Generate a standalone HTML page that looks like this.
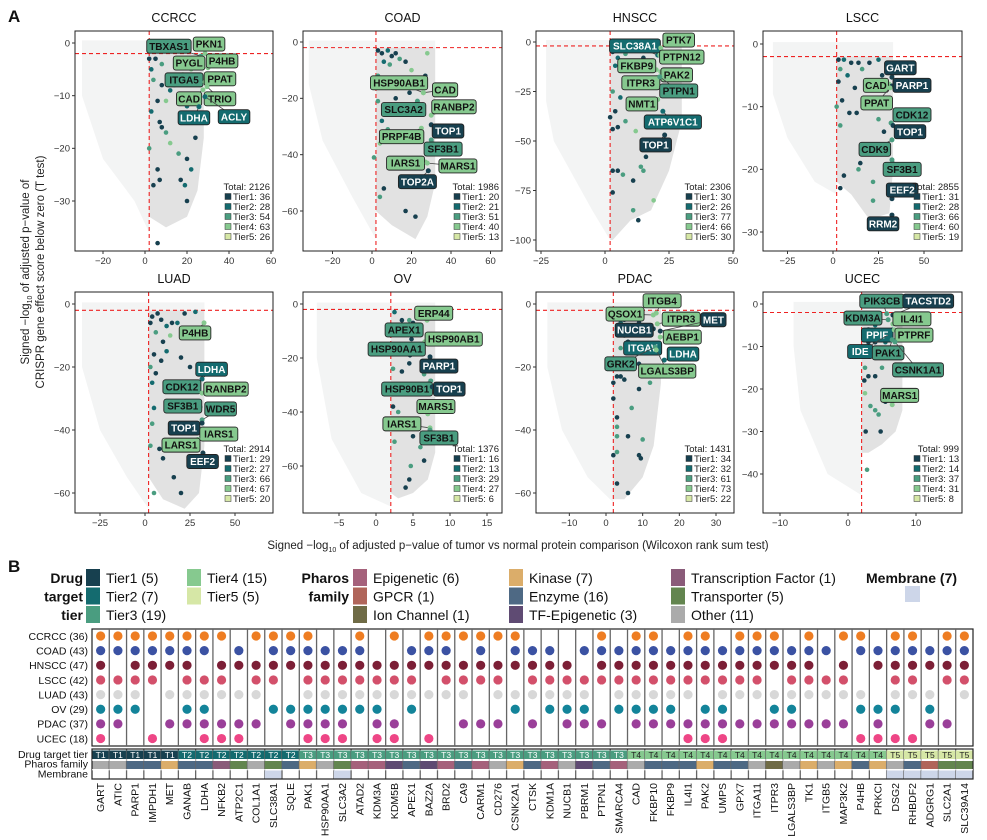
<!DOCTYPE html>
<html><head><meta charset="utf-8">
<style>
html,body{margin:0;padding:0;background:#fff;}
svg{display:block;font-family:"Liberation Sans",Arial,sans-serif;}
</style></head>
<body>
<svg id="fig" width="987" height="840" viewBox="0 0 987 840" xmlns="http://www.w3.org/2000/svg"></svg>
<script>
// ===== Panel A data =====
const panelNames = ["CCRCC","COAD","HNSCC","LSCC","LUAD","OV","PDAC","UCEC"];
const panelTotals = [2126,1986,2306,2855,2914,1376,1431,999];
const panelTierCounts = [[36,28,54,63,26],[20,21,51,40,13],[30,26,77,66,30],[31,28,66,60,19],[29,27,66,67,20],[16,13,29,27,6],[34,32,61,73,22],[13,14,37,31,8]];
const panelXTicks = [[-20,0,20,40,60],[-20,0,20,40,60],[-25,0,25,50],[-25,0,25,50],[-25,0,25,50],[-5,0,5,10,15],[-10,0,10,20,30],[-10,0,10]];
const panelYTicks = [[0,-10,-20,-30],[0,-20,-40,-60],[0,-25,-50,-75,-100],[0,-10,-20,-30],[0,-20,-40,-60],[0,-20,-40,-60],[0,-20,-40,-60],[0,-10,-20,-30,-40]];
// labelled genes: [gene, labelX, labelY, pointX, pointY, tier]
const panelLabels = [
 [["TBXAS1",11.4,-0.6,26.7,-2.5,3],["PKN1",30.5,-0.2,28.6,-2,4],["PYGL",21,-3.8,26,-3.8,4],["P4HB",36.7,-3.4,30,-4.7,4],["ITGA5",18.6,-7,26,-7,3],["PPAT",35.7,-6.8,28.6,-7.4,4],["CAD",21,-10.6,27.6,-8.9,4],["TRIO",35.7,-10.6,29.5,-8.3,4],["LDHA",23.3,-14.2,25.7,-12.1,2],["ACLY",42.4,-14,28.6,-10.2,2]],
 [["HSP90AB1",13.7,-14.5,26,-18,4],["CAD",37,-17,26,-18,4],["SLC3A2",16,-24,23,-21,3],["RANBP2",41.5,-23,30,-26,4],["TOP1",38.5,-31.6,30,-29.4,1],["PRPF4B",15,-33.6,25,-30.6,4],["SF3B1",36,-38,30,-34.8,3],["IARS1",17,-43,27,-42.6,4],["MARS1",43.5,-44,28,-43,4],["TOP2A",23,-49.6,28.5,-45.7,1]],
 [["SLC38A1",11.7,-2,20.6,-6.6,2],["PTK7",28.8,1,21.8,-3,4],["PTPN12",30,-7.6,21.4,-6.6,4],["FKBP9",12.4,-12,20,-14,4],["PAK2",28,-16.6,21.8,-15,4],["ITPR3",14,-20.6,20.6,-18,4],["PTPN1",28.8,-24.7,21.4,-17.6,3],["NMT1",14.4,-31.3,20.6,-29,4],["ATP6V1C1",26.5,-40.4,22.6,-35,2],["TOP1",19.8,-52,23.3,-47,1]],
 [["GART",37,-3.8,32.4,-5.3,1],["CAD",23.6,-6.6,30.8,-6.4,4],["PARP1",43.4,-6.6,32.4,-6.7,1],["PPAT",24,-9.4,31.3,-7,4],["CDK12",43.4,-11.3,31.9,-12.6,3],["TOP1",42.3,-14,33,-13,1],["CDK9",23,-16.8,32.4,-15.3,3],["SF3B1",38,-20,32.4,-18.5,3],["EEF2",38,-23.3,32.4,-24.7,1],["RRM2",27.5,-28.7,32.4,-27.3,1]],
 [["P4HB",27.8,-9.2,32.8,-6,4],["LDHA",37,-20.7,31.7,-23.8,2],["CDK12",20.5,-26.3,28.9,-25.4,3],["RANBP2",45,-27,31.7,-28.3,4],["SF3B1",21,-32.4,30.6,-32.7,3],["WDR5",42,-33.3,31.7,-36.8,3],["TOP1",21.7,-39.4,31.7,-37.8,1],["IARS1",41,-41.3,32.2,-42,4],["LARS1",20,-44.8,29.4,-43,4],["EEF2",32,-50,32.2,-47.3,1]],
 [["ERP44",7.8,-3.4,6.9,-6,4],["APEX1",3.8,-9.6,6,-10.6,3],["HSP90AB1",10.5,-13,6.6,-14,4],["HSP90AA1",2.8,-16.7,6.2,-16.4,3],["PARP1",8.5,-23,7.3,-19.6,1],["HSP90B1",4.2,-31.5,7.4,-28.5,3],["TOP1",9.9,-31.5,7.6,-30.7,1],["MARS1",8.1,-38,7,-40.7,4],["IARS1",3.5,-44.4,7.3,-45.9,4],["SF3B1",8.5,-49.6,7.3,-46.7,3]],
 [["ITGB4",15.3,1,13.7,-2.9,4],["QSOX1",5.2,-3.2,12.9,-3.5,4],["ITPR3",20.5,-4.8,14,-6.3,4],["MET",29.3,-5,14.8,-8.6,1],["NUCB1",7.7,-8.3,12.9,-7.9,1],["AEBP1",20.8,-10.5,14.8,-10.5,4],["ITGAV",10,-14,12.9,-12.7,2],["LDHA",21,-15.9,15.9,-17.8,2],["GRK2",4,-19,13.4,-13.7,3],["LGALS3BP",16.7,-21.3,13.7,-14.6,4]],
 [["PIK3CB",5,0.7,5.7,-2.3,3],["TACSTD2",11.8,0.7,6.6,-2.6,1],["KDM3A",2.2,-3.3,5.9,-3.7,3],["IL4I1",9.4,-3.5,6.6,-4.7,4],["PPIF",4.3,-7.3,6.5,-6.1,2],["PTPRF",9.7,-7.3,6.8,-6.1,4],["IDE",1.8,-11.2,6.2,-7,2],["PAK1",5.9,-11.5,6.5,-8.4,3],["CSNK1A1",10.3,-15.5,6.9,-8.9,3],["MARS1",7.6,-21.5,6.5,-23.7,4]]
];
// other tiered proteins: [x, y, tier]
const panelPoints = [
 [[2,-3,1],[3,-5,2],[5,-3,1],[8,-4,3],[4,-7,3],[8,-8,1],[12,-9,2],[14,-8,3],[6,-11,1],[3,-13,2],[8,-16,1],[7,-15,1],[10,-17,3],[20,-12,2],[24,-18,1],[2,-20,3],[6,-24,1],[20,-22,1],[22,-24,2],[7,-26,1],[4,-27,1],[17,-26,1],[19,-27,2],[20,-30,1],[6,-38,1],[16,-21,3],[12,-19,4],[18,-6,4],[22,-5,4],[10,-11,4]],
 [[3,-3,1],[5,-4,1],[8,-3,2],[10,-5,1],[12,-4,1],[6,-7,2],[9,-8,3],[14,-6,3],[17,-7,1],[27,-12,1],[3,-12,3],[5,-15,2],[14,-15,1],[19,-18,1],[12,-20,1],[3,-21,3],[6,-24,3],[5,-28,2],[8,-31,3],[4,-36,4],[1,-41,3],[6,-52,1],[4,-55,3],[17,-60,1],[22,-62,1],[28,-4,4],[20,-10,4]],
 [[3,-5,1],[5,-8,2],[8,-6,3],[12,-10,3],[15,-8,1],[4,-12,2],[10,-20,1],[3,-25,3],[6,-28,2],[4,-35,1],[2,-38,1],[5,-43,1],[3,-44,1],[8,-40,3],[12,-45,4],[16,-58,1],[14,-63,3],[3,-65,1],[5,-65,1],[7,-67,3],[11,-70,1],[15,-65,3],[19,-80,4],[11,-85,3],[13,-90,1],[3,-76,1]],
 [[3,-2.5,1],[6,-2.5,2],[10,-3,1],[14,-3,1],[20,-3,1],[25,-2.5,2],[4,-4,3],[3,-6,1],[8,-5,2],[12,-7,1],[16,-4,3],[27,-5,1],[5,-9,1],[9,-11,1],[13,-11,1],[4,-13,3],[20,-9,1],[25,-12,3],[28,-14,1],[15,-19,1],[6,-21,1],[4,-23,1],[14,-20,3],[22,-22,3],[22,-25,3],[2,-10,3]],
 [[4,-4,1],[7,-3,1],[9,-5,1],[12,-7,2],[15,-6,1],[3,-6,1],[6,-9,3],[10,-12,1],[14,-10,4],[18,-6,2],[22,-3,1],[28,-2.5,2],[5,-16,1],[9,-18,1],[12,-15,2],[20,-17,1],[25,-20,1],[3,-20,3],[6,-22,1],[4,-25,2],[5,-33,2],[4,-38,3],[3,-45,3],[8,-46,1],[10,-49,1],[16,-55,1],[20,-60,1],[5,-60,3]],
 [[2.5,-3,2],[3.5,-6,1],[4.5,-6,3],[5,-7,1],[3,-8,3],[2.3,-11,3],[4.8,-13,1],[3,-15,3],[4.6,-19,1],[4.5,-22,1],[2.3,-24,3],[3.5,-25,1],[6.5,-26,3],[2.3,-38,1],[3,-40,3],[5,-49,1],[2.5,-51,3],[6,-53,3],[6.5,-58,1],[4.5,-65,1],[4,-68,1],[4.7,-60,3]],
 [[3,-4,1],[4,-6,2],[5,-5,1],[7,-4,3],[9,-6,1],[3,-8,2],[5,-10,1],[6,-12,1],[4,-14,3],[7,-15,1],[9,-19,1],[3,-23,1],[2,-25,1],[4,-23,1],[5,-24,1],[9,-27,1],[12,-25,3],[2,-30,1],[3,-36,1],[3,-39,3],[7,-33,3],[6,-42,1],[3,-42,3],[9,-48,1],[9.5,-49,1],[2,-48,1],[10,-43,3],[3,-57,1],[6,-60,1],[3,-47,3]],
 [[2.5,-4,3],[3,-6,1],[4,-5,2],[3.5,-7,1],[2.5,-8,3],[3,-9,1],[4,-9,1],[5.5,-9,2],[2.3,-11,3],[2.5,-15,3],[3,-17,1],[2.4,-18,1],[4,-17,1],[3.3,-24,3],[4,-25,3],[4.5,-26,3],[5.5,-23,1],[2.6,-30,1],[4.8,-30,1],[2.8,-39,3],[5,-15,3],[2.5,-21,4]]
];
// background protein clouds (outline in data units)
const panelCloudAll = [
 [[-30,0.5],[28,0.5],[28,-2],[2,-2],[2,-36],[-5,-30],[-20,-22],[-30,-10]],
 [[-32,0.5],[32,0.5],[32,-2],[2,-2],[2,-70],[-10,-55],[-25,-35],[-32,-15]],
 [[-23,1],[30,1],[30,-2],[2,-2],[2,-100],[-5,-85],[-20,-50],[-23,-30]],
 [[-33,0.3],[33,0.3],[33,-2],[2,-2],[2,-24],[-10,-22],[-25,-15],[-33,-8]],
 [[-35,0.5],[33,0.5],[33,-2],[2,-2],[2,-65],[-10,-55],[-25,-40],[-35,-20]],
 [[-8,0.5],[8,0.5],[8,-2],[2,-2],[2,-75],[-2,-70],[-6,-50],[-8,-20]],
 [[-16,0.5],[15,0.5],[15,-2],[2,-2],[2,-63],[-5,-55],[-12,-40],[-16,-20]],
 [[-8,0.5],[8,0.5],[8,-2],[2,-2],[2,-45],[-3,-40],[-7,-25],[-8,-10]]
];
const panelCloudSig = [
 [[2,-2],[28,-2],[28,-18],[25,-28],[20,-33],[10,-35],[2,-33]],
 [[2,-2],[32,-2],[32,-50],[28,-62],[22,-70],[10,-65],[2,-60]],
 [[2,-2],[30,-2],[30,-40],[25,-65],[18,-85],[10,-90],[3,-100],[2,-100]],
 [[2,-2],[33,-2],[33,-20],[31,-27],[20,-28],[10,-24],[2,-22]],
 [[2,-2],[33,-2],[33,-45],[30,-60],[22,-65],[10,-62],[2,-55]],
 [[2,-2],[8,-2],[8,-55],[7,-65],[5,-70],[3,-72],[2,-70]],
 [[2,-2],[15,-2],[15,-25],[13,-45],[10,-55],[5,-62],[2,-62]],
 [[2,-2],[8,-2],[8,-25],[7,-30],[5,-33],[3,-35],[2,-35]]
];
// ===== Panel B data =====
const genes = ["GART","ATIC","PARP1","IMPDH1","MET","GANAB","LDHA","NFKB2","ATP2C1","COL1A1","SLC38A1","SQLE","PAK1","HSP90AA1","SLC3A2","ATAD2","KDM3A","KDM5B","APEX1","BAZ2A","BRD2","CA9","CARM1","CD276","CSNK2A1","CTSK","KDM1A","NUCB1","PBRM1","PTPN1","SMARCA4","CAD","FKBP10","FKBP9","IL4I1","PAK2","UMPS","GPX7","ITGA11","ITPR3","LGALS3BP","TK1","ITGB5","MAP3K2","P4HB","PRKCI","DSG2","RHBDF2","ADGRG1","SLC2A1","SLC39A14"];
const geneTiers = [1,1,1,1,1,2,2,2,2,2,2,2,3,3,3,3,3,3,3,3,3,3,3,3,3,3,3,3,3,3,3,4,4,4,4,4,4,4,4,4,4,4,4,4,4,4,5,5,5,5,5];
const geneFamily = ["Other","Other","Enzyme","Enzyme","Kinase","Enzyme","Enzyme","Transcription Factor","Transporter","Other","Transporter","Enzyme","Kinase","Other","Transporter","Epigenetic","Epigenetic","TF-Epigenetic","Enzyme","TF-Epigenetic","Epigenetic","Enzyme","Epigenetic","Other","Kinase","Enzyme","Epigenetic","Other","TF-Epigenetic","Enzyme","Epigenetic","Other","Enzyme","Enzyme","Enzyme","Kinase","Enzyme","Enzyme","Other","Ion Channel","Other","Kinase","Other","Kinase","Enzyme","Kinase","Other","Enzyme","GPCR","Transporter","Transporter"];
const geneMembrane = [0,0,0,0,0,0,0,0,0,0,1,0,0,0,1,0,0,0,0,0,0,0,0,0,0,0,0,0,0,0,0,0,0,0,0,0,0,0,0,0,0,0,0,0,0,0,1,1,1,1,1];
const cancerRows = ["CCRCC (36)","COAD (43)","HNSCC (47)","LSCC (42)","LUAD (43)","OV (29)","PDAC (37)","UCEC (18)"];
const presence = ["11111111","11011110","11111100","11110001","11101010","11111110","11011111","10111011","01101011","10111010","11110100","11100110","11111111","01111111","01111111","11111100","00111111","10111011","01111100","11101001","11111000","10111010","11110010","10111010","11101100","01111010","01111100","00111110","01011110","11110010","01111100","11111110","11111110","01111110","11111011","11110111","01111111","11111010","11111010","11101110","01111110","11111010","01011010","10111010","11001101","01100111","11111101","11111001","01101110","11110010","11111000"];
const tierLegend = ["Tier1 (5)","Tier2 (7)","Tier3 (19)","Tier4 (15)","Tier5 (5)"];
const familyLegend = ["Epigenetic (6)","GPCR (1)","Ion Channel (1)","Kinase (7)","Enzyme (16)","TF-Epigenetic (3)","Transcription Factor (1)","Transporter (5)","Other (11)"];

// ===== styles / layout =====
const tierColors = ["#17404f","#146b6f","#4a9d80","#86c98f","#d6e7a6"];
const tierText = ["#fff","#fff","#111","#111","#111"];
const familyColors = {"Epigenetic":"#a5617b","GPCR":"#b0655a","Ion Channel":"#6f6b46","Kinase":"#dbad6a","Enzyme":"#4e6984","TF-Epigenetic":"#5f4b73","Transcription Factor":"#8a5b79","Transporter":"#63854f","Other":"#ababab"};
const rowColors = ["#ee7d22","#3b52a3","#7c1f36","#d3506b","#d8d8d8","#13849a","#9a3f99","#ee4686"];
const boxes = [[75,31,273,251],[303,31,502,251],[536,31,734,251],[763,31,962,251],[75,292,273,513],[303,292,502,513],[536,292,734,513],[763,292,962,513]];
const xCal = [[0,145,20,187],[0,372,40,451],[0,605,50,733],[0,833,50,924],[0,145,50,235],[0,376,15,487],[0,606,30,716],[0,848,10,916]];
const yCal = [[0,43,-30,201],[0,42,-60,211],[0,42,-100,240],[0,44,-30,232],[0,304,-60,493],[0,304,-60,466],[0,304,-60,493],[0,304,-40,474]];

const NS = "http://www.w3.org/2000/svg";
const svg = document.getElementById("fig");
function el(tag, attrs, parent, text){
  const e = document.createElementNS(NS, tag);
  for (const k in attrs) e.setAttribute(k, attrs[k]);
  if (text !== undefined) e.textContent = text;
  (parent || svg).appendChild(e);
  return e;
}
function lin(v0,p0,v1,p1){ return v => p0 + (v - v0) * (p1 - p0) / (v1 - v0); }

const defs = el("defs", {});

let t = el("text",{x:8,y:22,"font-size":17,"font-weight":"bold",fill:"#111"},svg,"A");


t = el("text",{x:8,y:572,"font-size":17,"font-weight":"bold",fill:"#111"},svg,"B");



const yt = el("text",{transform:"translate(29,272) rotate(-90)","text-anchor":"middle","font-size":11.5,fill:"#222"});


el("tspan",{x:0,dy:0},yt,"Signed \u2212log");
el("tspan",{"font-size":7,dy:3},yt,"10");
el("tspan",{dy:-3},yt," of adjusted p\u2212value of");
el("tspan",{x:0,dy:15},yt,"CRISPR gene effect score below zero (T test)");
const xtt = el("text",{x:518,y:549,"text-anchor":"middle","font-size":11.5,fill:"#222"});


el("tspan",{},xtt,"Signed \u2212log");
el("tspan",{"font-size":7,dy:3},xtt,"10");
el("tspan",{dy:-3},xtt," of adjusted p\u2212value of tumor vs normal protein comparison (Wilcoxon rank sum test)");

for (let i = 0; i < panelNames.length; i++){
  const [x0,y0,x1,y1] = boxes[i];
  const sx = lin(...xCal[i]);
  const sy = lin(...yCal[i]);
  const g = el("g",{});
  
  
  const cp = el("clipPath",{id:"cp"+i},defs);
  el("rect",{x:x0,y:y0,width:x1-x0,height:y1-y0},cp);
  const inner = el("g",{"clip-path":"url(#cp"+i+")"},g);

  const title = el("text",{x:(x0+x1)/2,y:y0-9,"text-anchor":"middle","font-size":12.5,fill:"#111"},g,panelNames[i]);
  
  

  const ca = el("polygon",{points:panelCloudAll[i].map(p=>sx(p[0])+","+sy(p[1])).join(" "),fill:"#f3f4f4"},inner);
  
  
  const cs = el("polygon",{points:panelCloudSig[i].map(p=>sx(p[0])+","+sy(p[1])).join(" "),fill:"#e2e2e2"},inner);
  
  

  const vl = el("line",{x1:sx(2),x2:sx(2),y1:y0,y2:y1,stroke:"#ee2222","stroke-width":1.1,"stroke-dasharray":"4,3"},inner);
  
  
  const hl = el("line",{x1:x0,x2:x1,y1:sy(-2),y2:sy(-2),stroke:"#ee2222","stroke-width":1.1,"stroke-dasharray":"4,3"},inner);
  
  

  for (const p of panelPoints[i]){
    const c = el("circle",{cx:sx(p[0]),cy:sy(p[1]),r:2.3,fill:tierColors[p[2]-1]},inner);
    
    
  }
  for (const L of panelLabels[i]){
    const [gname,lx,ly,px,py,tier] = L;
    const lxp = sx(lx), lyp = sy(ly), pxp = sx(px), pyp = sy(py);
    const ln = el("line",{x1:pxp,y1:pyp,x2:lxp,y2:lyp,stroke:"#444","stroke-width":0.8},g);
    
    
    const c = el("circle",{cx:pxp,cy:pyp,r:2.5,fill:tierColors[tier-1]},g);
    
    
    const w = gname.length*6.4+6;
    const r = el("rect",{x:lxp-w/2,y:lyp-7,width:w,height:14,rx:2.5,fill:tierColors[tier-1],stroke:"#222","stroke-width":0.9},g);
    
    
    const tx = el("text",{x:lxp,y:lyp+3.6,"text-anchor":"middle","font-size":10,"font-weight":"bold",fill:tierText[tier-1]},g,gname);
    
    
  }
  const fr = el("rect",{x:x0,y:y0,width:x1-x0,height:y1-y0,fill:"none",stroke:"#222","stroke-width":1},g);
  
  
  for (const v of panelXTicks[i]){
    const X = sx(v);
    el("line",{x1:X,x2:X,y1:y1,y2:y1+3,stroke:"#333"},g);
    const tl = el("text",{x:X,y:y1+13,"text-anchor":"middle","font-size":9.5,fill:"#333"},g,(v<0?"\u2212"+(-v):String(v)));
    
    
  }
  for (const v of panelYTicks[i]){
    const Y = sy(v);
    el("line",{x1:x0-3,x2:x0,y1:Y,y2:Y,stroke:"#333"},g);
    const tl = el("text",{x:x0-5,y:Y+3.3,"text-anchor":"end","font-size":9.5,fill:"#333"},g,(v<0?"\u2212"+(-v):String(v)));
    
    
  }
  const lg = el("g",{},g);
  
  
  el("text",{x:x1-3,y:y1-61,"text-anchor":"end","font-size":9.5,fill:"#222"},lg,"Total: "+panelTotals[i]);
  for (let k=0;k<5;k++){
    const yy = y1-51+k*10;
    el("rect",{x:x1-48,y:yy-6.5,width:6,height:6,fill:tierColors[k],stroke:"#333","stroke-width":0.5},lg);
    el("text",{x:x1-40,y:yy,"font-size":9.5,fill:"#222"},lg,"Tier"+(k+1)+": "+panelTierCounts[i][k]);
  }
}

// ===== Panel B legend =====
const legB = el("g",{});


["Drug","target","tier"].forEach((s,k)=>el("text",{x:83,y:583+k*18.5,"text-anchor":"end","font-size":14,"font-weight":"bold",fill:"#111"},legB,s));
tierLegend.forEach((s,k)=>{
  const col = k<3?0:1, row = k<3?k:k-3;
  const x = col?187:86;
  el("rect",{x:x,y:569+row*18.5,width:14,height:17,fill:tierColors[k]},legB);
  const e = el("text",{x:x+20,y:583+row*18.5,"font-size":14,fill:"#111"},legB,s);
  
  
});
["Pharos","family"].forEach((s,k)=>el("text",{x:349,y:583+k*18.5,"text-anchor":"end","font-size":14,"font-weight":"bold",fill:"#111"},legB,s));
familyLegend.forEach((s,k)=>{
  const col = Math.floor(k/3), row = k%3;
  const x = [353,509,671][col];
  const fam = s.replace(/ \(\d+\)$/,"");
  el("rect",{x:x,y:569+row*18.5,width:14,height:17,fill:familyColors[fam]},legB);
  const e = el("text",{x:x+20,y:583+row*18.5,"font-size":14,fill:"#111"},legB,s);
  
  
});
el("text",{x:866,y:583,"font-size":14,"font-weight":"bold",fill:"#111"},legB,"Membrane (7)");
el("rect",{x:905,y:586,width:15,height:16,fill:"#cdd6e9"},legB);

// ===== Panel B matrix =====
const mx0 = 92, mx1 = 973, cw = (mx1-mx0)/genes.length;
const rowY0 = 636, rowStep = 14.65;
const mat = el("g",{});


el("rect",{x:mx0,y:629,width:mx1-mx0,height:117,fill:"#fff",stroke:"#222","stroke-width":1.2},mat);
cancerRows.forEach((r,k)=>{
  const e = el("text",{x:88,y:rowY0+k*rowStep+3.8,"text-anchor":"end","font-size":10.5,fill:"#111"},mat,r);
  
  
});
["Drug target tier","Pharos family","Membrane"].forEach((s,k)=>{
  const e = el("text",{x:88,y:758+k*9.7,"text-anchor":"end","font-size":10.5,fill:"#111"},mat,s);
  
  
});
genes.forEach((gname,j)=>{
  const cx = mx0 + cw*j;
  const cxm = cx + cw/2;
  if (j>0){
    el("line",{x1:cx,x2:cx,y1:629,y2:746,stroke:"#666","stroke-width":1.3},mat);
    el("line",{x1:cx,x2:cx,y1:749,y2:779,stroke:"#666","stroke-width":1.3},mat);
  }
  for (let k=0;k<8;k++){
    if (presence[j][k]==="1"){
      const c = el("circle",{cx:cxm,cy:rowY0+k*rowStep,r:4.6,fill:rowColors[k]},mat);
      
      
    }
  }
  const tr = geneTiers[j];
  el("rect",{x:cx,y:750.5,width:cw,height:8.5,fill:tierColors[tr-1]},mat);
  const tt = el("text",{x:cxm,y:758,"text-anchor":"middle","font-size":8.5,fill:tr<=3?"#fff":"#222"},mat,"T"+tr);
  
  
  const fc = el("rect",{x:cx,y:761,width:cw,height:8,fill:familyColors[geneFamily[j]]},mat);
  
  
  if (geneMembrane[j]){
    const mc = el("rect",{x:cx,y:770.5,width:cw,height:8,fill:"#cdd6e9"},mat);
    
    
  }
  const gl = el("text",{transform:"translate("+(cxm+3.5)+",783) rotate(-90)","text-anchor":"end","font-size":10.5,fill:"#111"},mat,gname);
  
  
});
el("rect",{x:mx0,y:749,width:mx1-mx0,height:30,fill:"none",stroke:"#222","stroke-width":1.2},mat);
el("line",{x1:mx0,x2:mx1,y1:760,y2:760,stroke:"#fff","stroke-width":1},mat);
el("line",{x1:mx0,x2:mx1,y1:769.7,y2:769.7,stroke:"#fff","stroke-width":1},mat);
</script>
</body></html>
